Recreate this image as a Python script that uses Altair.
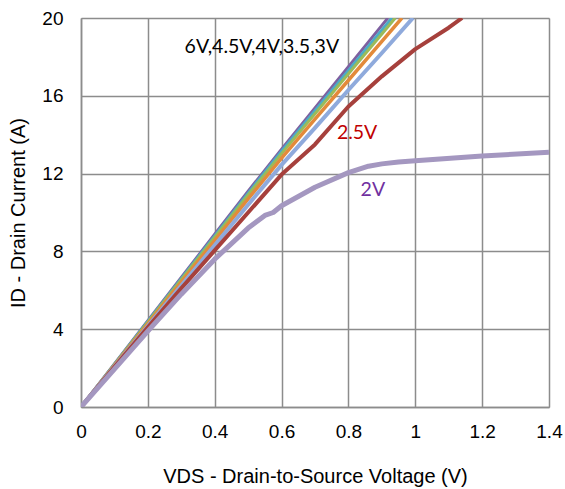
import altair as alt
import pandas as pd

# --- data ---
v_family = [0.0, 0.1, 0.2, 0.3, 0.4, 0.5, 0.6, 0.7, 0.8, 0.9]
i_6v   = [0.0, 2.22, 4.44, 6.66, 8.88, 11.10, 13.25, 15.37, 17.50, 19.62]
i_45v  = [0.0, 2.20, 4.40, 6.60, 8.80, 11.00, 13.15, 15.23, 17.30, 19.38]
i_4v   = [0.0, 2.18, 4.36, 6.54, 8.72, 10.90, 13.03, 15.08, 17.13, 19.18]
i_35v  = [0.0, 2.14, 4.28, 6.42, 8.56, 10.70, 12.80, 14.80, 16.80, 18.80]
i_3v   = [0.0, 2.08, 4.16, 6.24, 8.32, 10.40, 12.45, 14.35, 16.30, 18.20]
end_6v, end_45v, end_4v, end_35v, end_3v = 0.918, 0.93, 0.94, 0.96, 0.993

v_25v = [0.0, 0.1, 0.2, 0.3, 0.4, 0.5, 0.6, 0.7, 0.8, 0.9, 1.0, 1.1, 1.14]
i_25v = [0.0, 2.05, 4.10, 6.10, 8.05, 10.0, 11.95, 13.5, 15.45, 17.0, 18.4, 19.5, 20.0]

v_2v = [0.0, 0.1, 0.2, 0.3, 0.4, 0.5, 0.55, 0.575, 0.6, 0.7, 0.8, 0.86, 0.9, 0.95, 1.0, 1.2, 1.4]
i_2v = [0.0, 1.95, 3.9, 5.8, 7.6, 9.2, 9.85, 10.0, 10.35, 11.3, 12.05, 12.38, 12.5, 12.6, 12.66, 12.9, 13.1]

series_names = ["6V", "4.5V", "4V", "3.5V", "3V", "2.5V", "2V"]
series_colors = ["#7E60A0", "#4BACC6", "#9BBB59", "#E38A3A", "#8FAADC", "#A6403C", "#A497C0"]
series_widths = [3, 3, 3, 3.5, 4, 4, 5]

x_ticks = [0, 0.2, 0.4, 0.6, 0.8, 1.0, 1.2, 1.4]
y_ticks = [0, 4, 8, 12, 16, 20]

ann_text = ["6V,4.5V,4V,3.5,3V", "2.5V", "2V"]
ann_x = [0.541, 0.826, 0.873]
ann_y = [18.5, 14.1, 11.15]
ann_color = ["#000000", "#C00000", "#7030A0"]

# --- build table ---
rows = []
fam = [("6V", i_6v, end_6v), ("4.5V", i_45v, end_45v), ("4V", i_4v, end_4v),
       ("3.5V", i_35v, end_35v), ("3V", i_3v, end_3v)]
for name, vals, endv in fam:
    for k, (v, i) in enumerate(zip(v_family, vals)):
        if v < endv:
            rows.append({"s": name, "v": v, "i": i, "o": k})
    rows.append({"s": name, "v": endv, "i": 20.0, "o": 99})
for k, (v, i) in enumerate(zip(v_25v, i_25v)):
    rows.append({"s": "2.5V", "v": v, "i": i, "o": k})
for k, (v, i) in enumerate(zip(v_2v, i_2v)):
    rows.append({"s": "2V", "v": v, "i": i, "o": k})
df = pd.DataFrame(rows)

xs = alt.Scale(domain=[0, 1.4], nice=False, zero=False)
ys = alt.Scale(domain=[0, 20], nice=False)

grid_col = "#8C8C8C"
layers = []
for name, col, w in zip(series_names, series_colors, series_widths):
    layers.append(
        alt.Chart(df[df.s == name]).mark_line(color=col, strokeWidth=w, clip=True, strokeJoin="round")
        .encode(
            x=alt.X("v:Q", scale=xs,
                    axis=alt.Axis(values=x_ticks, format="~g", title="VDS - Drain-to-Source Voltage (V)",
                                  grid=True, gridColor=grid_col, gridWidth=1.5, domainColor=grid_col,
                                  domainWidth=1.5, ticks=False, labelFont="Liberation Sans",
                                  labelFontSize=19, labelColor="#000000", labelPadding=15,
                                  labelFlush=False,
                                  titleFont="Liberation Sans", titleFontSize=20, titleFontWeight="normal",
                                  titleColor="#000000", titlePadding=25)),
            y=alt.Y("i:Q", scale=ys,
                    axis=alt.Axis(values=y_ticks, title="ID - Drain Current (A)",
                                  grid=True, gridColor=grid_col, gridWidth=1.5, domainColor=grid_col,
                                  domainWidth=1.5, ticks=False, labelFont="Liberation Sans",
                                  labelFontSize=19, labelColor="#000000", labelPadding=18,
                                  labelFlush=False,
                                  titleFont="Liberation Sans", titleFontSize=20, titleFontWeight="normal",
                                  titleColor="#000000", titlePadding=13)),
            order="o:Q",
        )
    )

ann_df = pd.DataFrame({"t": ann_text, "x": ann_x, "y": ann_y, "c": ann_color})
ann = alt.Chart(ann_df).mark_text(font="Lato", fontSize=19.5, align="center", baseline="middle").encode(
    x=alt.X("x:Q", scale=xs), y=alt.Y("y:Q", scale=ys), text="t:N",
    color=alt.Color("c:N", scale=None),
)

chart = alt.layer(*layers, ann).properties(
    width=468, height=389,
    autosize=alt.AutoSizeParams(type="none"),
    padding={"left": 81, "top": 18, "right": 16, "bottom": 82},
).configure_view(stroke=None).configure(background="white")

chart.save("out.html", embed_options={"renderer": "svg", "actions": False})
